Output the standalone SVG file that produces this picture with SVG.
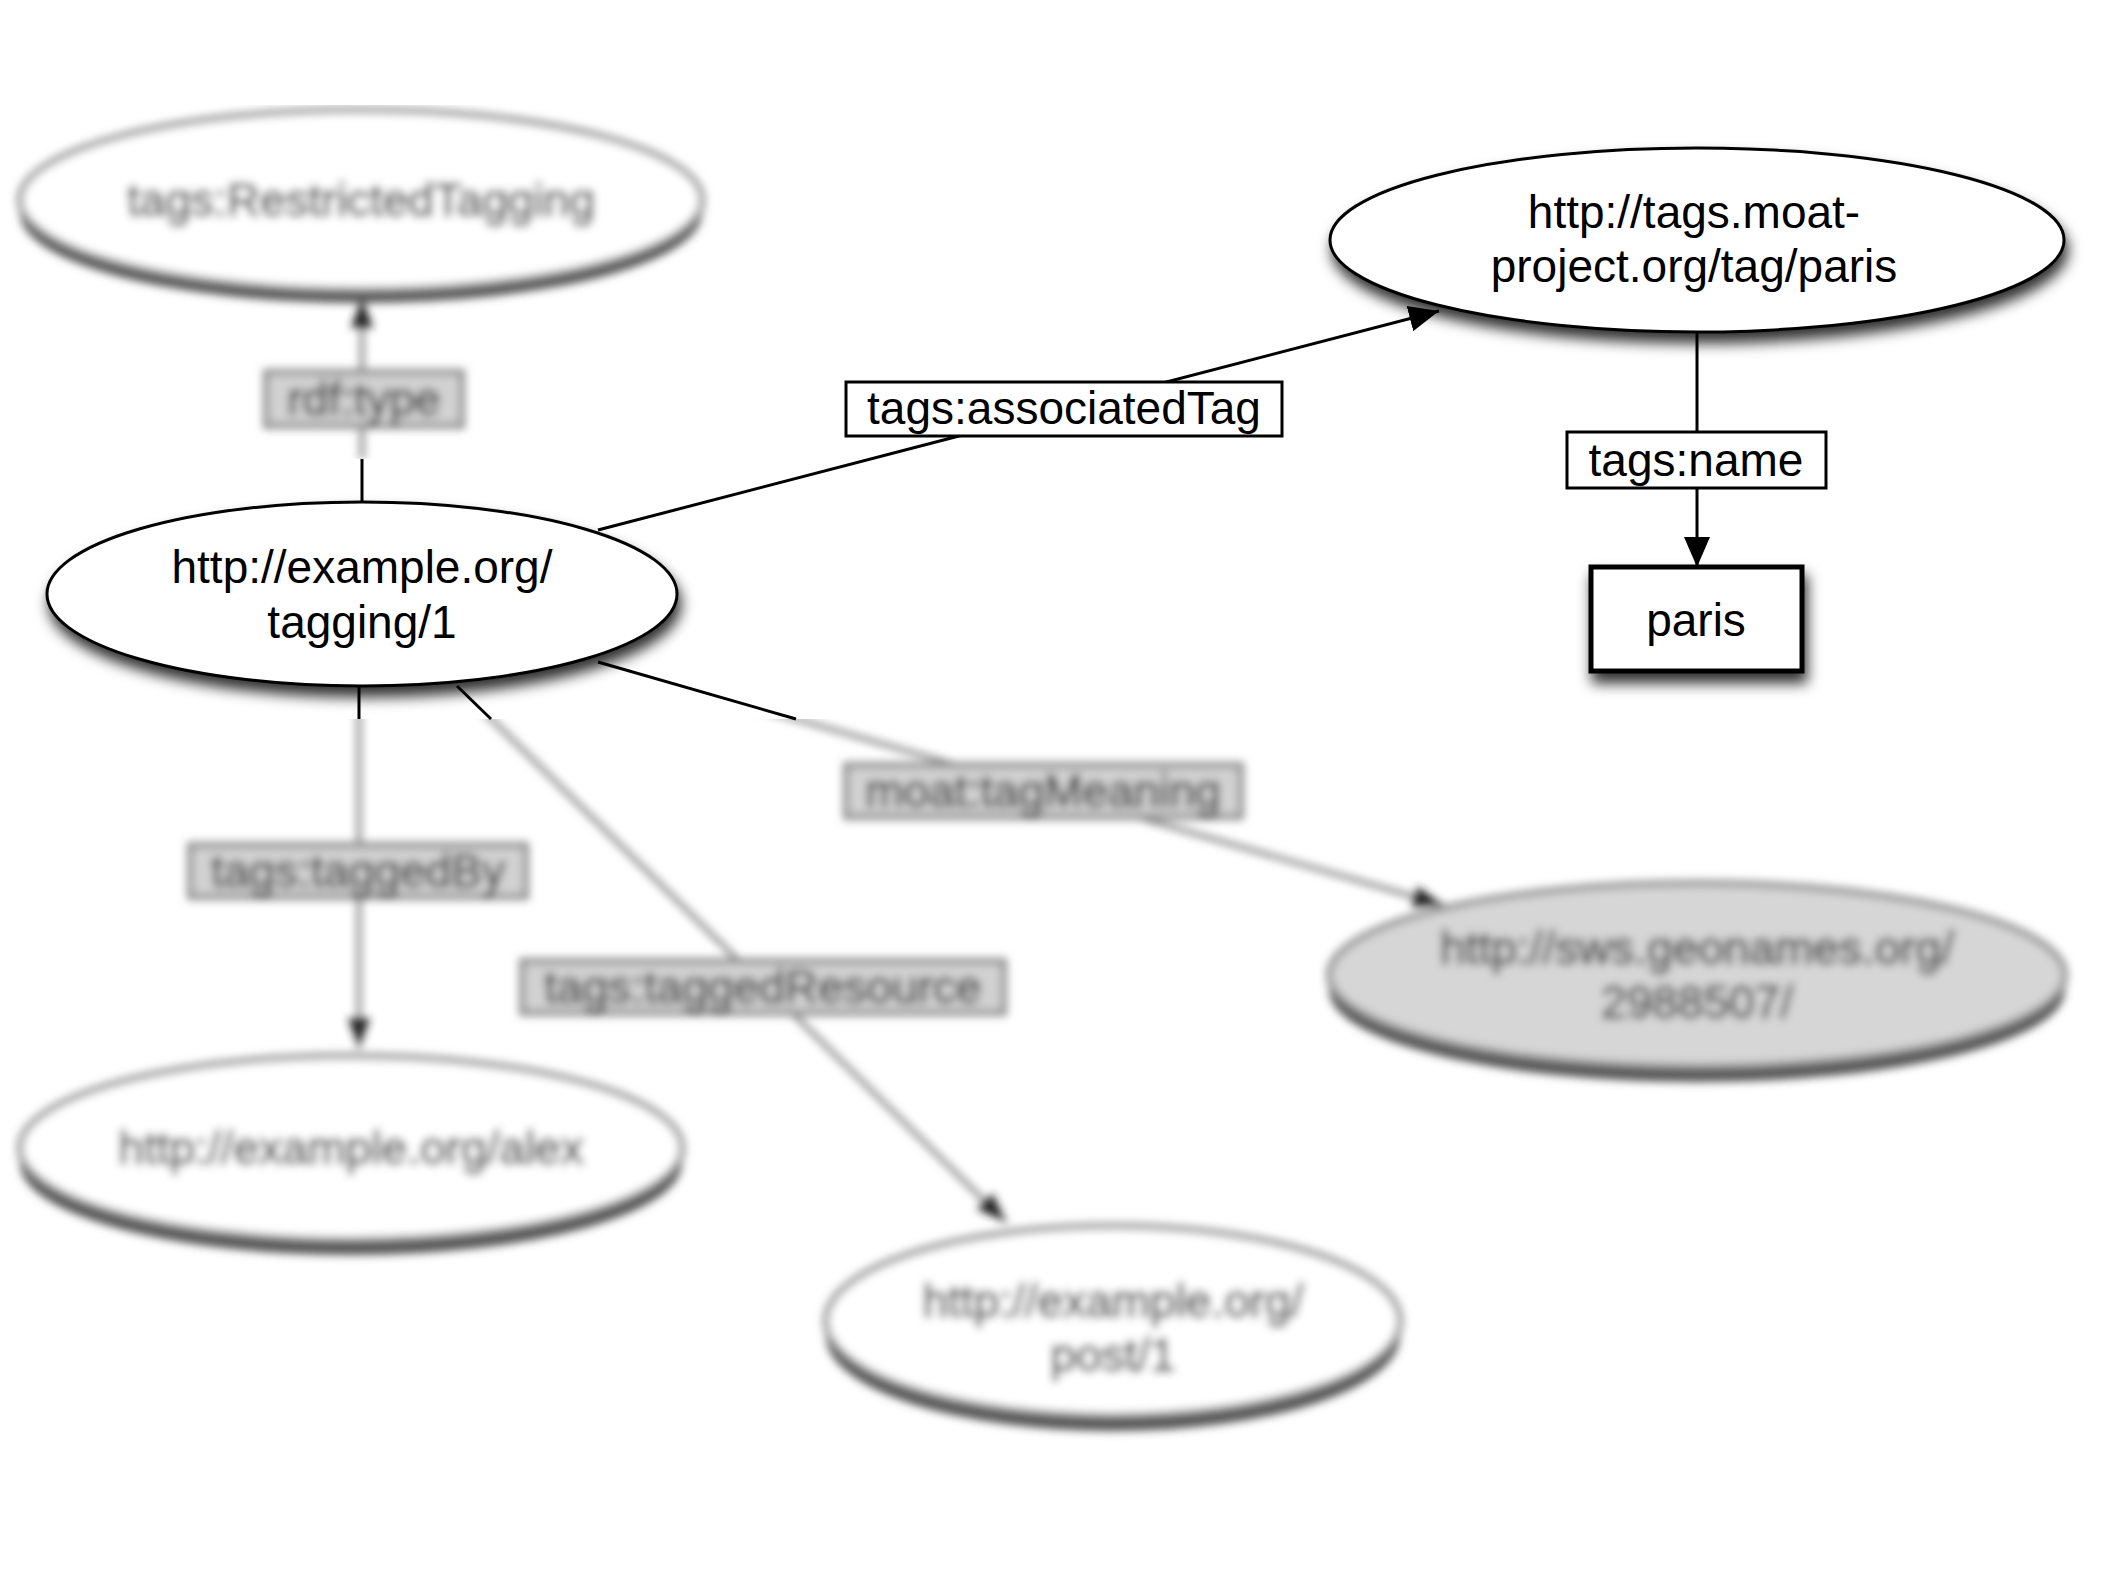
<svg xmlns="http://www.w3.org/2000/svg" width="2118" height="1587" viewBox="0 0 2118 1587">
<defs>
<style>
text{font-family:"Liberation Sans",Arial,sans-serif;font-size:46px;text-anchor:middle;fill:#000}
.node{fill:#fff;stroke:#000;stroke-width:3}
.lbl{fill:#fff;stroke:#000;stroke-width:3}
.edge{fill:none;stroke:#000;stroke-width:3}
.bnode{fill:#fff;stroke:#8a8a8a;stroke-width:6}
.bshadow{fill:#555}
.blbl{fill:#d2d2d2;stroke:#8c8c8c;stroke-width:6}
.bedge{fill:none;stroke:#888;stroke-width:5}
.btext{fill:#333;stroke:#333;stroke-width:1}
</style>
<filter id="shadow" x="-20%" y="-30%" width="140%" height="170%">
<feDropShadow dx="3" dy="10" stdDeviation="7" flood-color="#000" flood-opacity="0.8"/>
</filter>
<filter id="blur" x="-5%" y="-5%" width="110%" height="110%">
<feGaussianBlur stdDeviation="4.5"/>
</filter>
<clipPath id="clipTop"><rect x="0" y="105" width="800" height="354"/></clipPath>
<clipPath id="clipBottom"><rect x="0" y="719" width="2118" height="753"/></clipPath>
<marker id="arrow" markerUnits="userSpaceOnUse" markerWidth="32" markerHeight="26" refX="30" refY="13" orient="auto">
<path d="M0,0 L30,13 L0,26 z" fill="#000"/>
</marker>
<marker id="barrow" markerUnits="userSpaceOnUse" markerWidth="32" markerHeight="26" refX="30" refY="13" orient="auto">
<path d="M0,2 L30,13 L0,24 z" fill="#222"/>
</marker>
</defs>
<rect width="2118" height="1587" fill="#fff"/>

<!-- blurred top region -->
<g clip-path="url(#clipTop)">
<g filter="url(#blur)">
<g id="connectors-top-blurred">
<line class="bedge" x1="362" y1="459" x2="362" y2="298" marker-end="url(#barrow)"/>
</g>
<g id="node-restricted">
<ellipse class="bshadow" cx="361" cy="213" rx="341" ry="90"/>
<ellipse class="bnode" cx="361" cy="200" rx="341" ry="90"/>
<text class="btext" x="361" y="216">tags:RestrictedTagging</text>
</g>
<g id="label-rdftype">
<rect class="blbl" x="266" y="372" width="196" height="54"/>
<text class="btext" x="364" y="415">rdf:type</text>
</g>
</g>
</g>

<!-- blurred bottom region -->
<g clip-path="url(#clipBottom)">
<g filter="url(#blur)">
<g id="connectors-bottom-blurred">
<line class="bedge" x1="359" y1="700" x2="359" y2="1048" marker-end="url(#barrow)"/>
<line class="bedge" x1="477" y1="705" x2="1006" y2="1222" marker-end="url(#barrow)"/>
<line class="bedge" x1="730" y1="700" x2="1443" y2="905" marker-end="url(#barrow)"/>
</g>
<g id="label-taggedBy">
<rect class="blbl" x="190" y="845" width="336" height="52"/>
<text class="btext" x="358" y="887">tags:taggedBy</text>
</g>
<g id="label-taggedResource">
<rect class="blbl" x="522" y="961" width="482" height="52"/>
<text class="btext" x="763" y="1003">tags:taggedResource</text>
</g>
<g id="label-tagMeaning">
<rect class="blbl" x="846" y="765" width="395" height="52"/>
<text class="btext" x="1043" y="807">moat:tagMeaning</text>
</g>
<g id="node-alex">
<ellipse class="bshadow" cx="351" cy="1163" rx="331" ry="92"/>
<ellipse class="bnode" cx="351" cy="1148" rx="331" ry="92"/>
<text class="btext" x="351" y="1164">http://example.org/alex</text>
</g>
<g id="node-post1">
<ellipse class="bshadow" cx="1113" cy="1336" rx="287" ry="95"/>
<ellipse class="bnode" cx="1113" cy="1321" rx="287" ry="95"/>
<text class="btext" x="1113" y="1317">http://example.org/</text>
<text class="btext" x="1113" y="1371">post/1</text>
</g>
<g id="node-geonames">
<ellipse class="bshadow" cx="1697" cy="990" rx="368" ry="92"/>
<ellipse class="bnode" cx="1697" cy="975" rx="368" ry="92" style="fill:#d6d6d6"/>
<text class="btext" x="1697" y="964">http://sws.geonames.org/</text>
<text class="btext" x="1697" y="1018">2988507/</text>
</g>
</g>
</g>

<!-- sharp connectors -->
<g id="connectors">
<line class="edge" x1="362" y1="502" x2="362" y2="459"/>
<line class="edge" x1="359" y1="686" x2="359" y2="719"/>
<line class="edge" x1="457" y1="686" x2="491" y2="719"/>
<line class="edge" x1="598" y1="662" x2="796" y2="719"/>
<line class="edge" x1="598" y1="530" x2="1439" y2="311" marker-end="url(#arrow)"/>
<line class="edge" x1="1697" y1="332" x2="1697" y2="567" marker-end="url(#arrow)"/>
</g>

<g id="node-tagging1">
<ellipse class="node" cx="362" cy="594" rx="315" ry="92" filter="url(#shadow)"/>
<text x="362" y="583">http://example.org/</text>
<text x="362" y="638">tagging/1</text>
</g>

<g id="node-moat-paris">
<ellipse class="node" cx="1697" cy="240" rx="367" ry="92" filter="url(#shadow)"/>
<text x="1694" y="228">http://tags.moat-</text>
<text x="1694" y="282">project.org/tag/paris</text>
</g>

<g id="node-paris-literal">
<rect x="1591" y="567" width="211" height="104" fill="#fff" stroke="#000" stroke-width="5" filter="url(#shadow)"/>
<text x="1696" y="636">paris</text>
</g>

<g id="label-associatedTag">
<rect class="lbl" x="846" y="382" width="436" height="54"/>
<text x="1064" y="424">tags:associatedTag</text>
</g>

<g id="label-name">
<rect class="lbl" x="1567" y="432" width="259" height="56"/>
<text x="1696" y="476">tags:name</text>
</g>
</svg>
